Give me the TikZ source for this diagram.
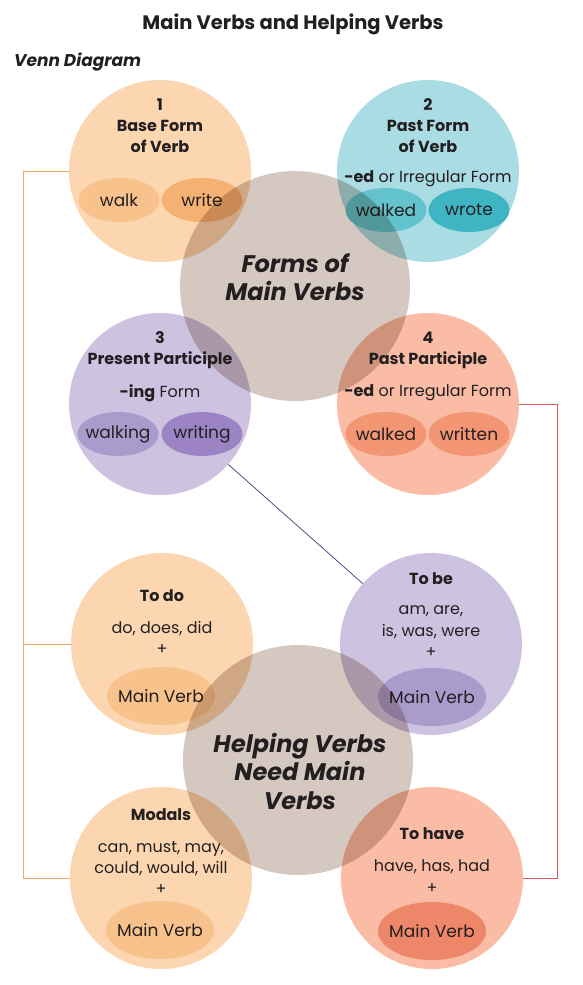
\documentclass[tikz,border=0pt]{standalone}
\usepackage{fontspec}
\setmainfont{Poppins}
\usetikzlibrary{positioning,shapes.geometric}

\definecolor{ink}{HTML}{231F20}
\definecolor{peach}{HTML}{FBD6B0}
\definecolor{peachdk}{HTML}{F7C28C}
\definecolor{peachdd}{HTML}{F4B172}
\definecolor{aqua}{HTML}{AADCE4}
\definecolor{aquadk}{HTML}{62C2CD}
\definecolor{aquadd}{HTML}{3FB5C4}
\definecolor{lilac}{HTML}{CDC3E1}
\definecolor{lilacdk}{HTML}{AA9BCD}
\definecolor{lilacdd}{HTML}{9C84C4}
\definecolor{salmon}{HTML}{FABCA5}
\definecolor{salmondk}{HTML}{F29673}
\definecolor{salmondd}{HTML}{EE8769}
\definecolor{taupe}{HTML}{D4C8C0}
\definecolor{brkorange}{HTML}{EDAA66}
\definecolor{brkred}{HTML}{E05A5A}
\definecolor{brknavy}{HTML}{3C3C78}

\begin{document}
\begin{tikzpicture}[x=1pt,y=-1pt,
      every node/.style={text=ink},
      blob/.style={circle,inner sep=0pt,minimum size=182},
      core/.style={circle,inner sep=0pt,minimum size=230,fill=taupe},
      word/.style={ellipse,inner ysep=0pt,inner xsep=-6pt,minimum width=81,minimum height=44,
         font=\fontsize{17}{20}\selectfont},
      mv/.style={ellipse,inner ysep=0pt,inner xsep=-7pt,minimum width=108,minimum height=58,
         font=\fontsize{17}{20}\selectfont},
      head/.style={align=center,font=\bfseries\fontsize{16}{21}\selectfont},
      body/.style={align=center,font=\fontsize{16}{21.5}\selectfont},
      big/.style={align=center,font=\bfseries\itshape\fontsize{24}{28.5}\selectfont},
      bracket/.style={draw=brkorange,line width=1pt},
      redlink/.style={draw=brkred,line width=0.8pt},
      link/.style={draw=brknavy,line width=0.7pt}]
  \useasboundingbox (0,0) rectangle (582,985);
  %.
  \node[font=\bfseries\fontsize{19.5}{23}\selectfont] (title) at (293,24) {Main Verbs and Helping Verbs};
  \node[anchor=west,inner sep=0pt,font=\bfseries\itshape\fontsize{17}{20}\selectfont] (venn) at (14,62) {Venn Diagram};
  %.
  \node[blob,fill=peach]  (c1) at (160,171) {};
  \node[blob,fill=aqua]   (c2) at (428,171) {};
  \node[blob,fill=lilac]  (c3) at (160,404) {};
  \node[blob,fill=salmon] (c4) at (428,404) {};
  \node[blob,fill=peach]  (todo) at (162,644) {};
  \node[blob,fill=lilac]  (tobe) at (431,644) {};
  \node[blob,fill=peach]  (modals) at (161,878) {};
  \node[blob,fill=salmon] (tohave) at (432,878) {};
  %.
  \node[word,fill=peachdk]  (walk) at (119,200) {walk};
  \node[word,fill=peachdd]  (write) at (202,200) {write};
  \node[word,fill=aquadk]   (walked) at (386,210) {walked};
  \node[word,fill=aquadd]   (wrote) at (469,210) {wrote};
  \node[word,fill=lilacdk]  (walking) at (118,434) {walking};
  \node[word,fill=lilacdd]  (writing) at (202,434) {writing};
  \node[word,fill=salmondk] (walkedpp) at (386,434) {walked};
  \node[word,fill=salmondk] (written) at (469,434) {written};
  \node[mv,fill=peachdk]  (todomv) at (161,696) {Main Verb};
  \node[mv,fill=lilacdk]  (tobemv) at (432,697) {Main Verb};
  \node[mv,fill=peachdk]  (modalsmv) at (160,930) {Main Verb};
  \node[mv,fill=salmondd] (tohavemv) at (432,931) {Main Verb};
  %.
  \begin{scope}[blend mode=multiply]
    \node[core] (forms) at (295,286) {};
    \node[core] (helping) at (298,760) {};
  \end{scope}
  %.
  \node[head] (c1t) at (160,126) {1\\Base Form\\of Verb};
  \node[head] (c2t) at (428,126) {2\\Past Form\\of Verb};
  \node[body] (c2b) at (428,179) {\textbf{-ed} or Irregular Form};
  \node[head] (c3t) at (160,350.5) {3\\Present Participle};
  \node[body] (c3b) at (160,393) {\textbf{-ing} Form};
  \node[head] (c4t) at (428,350.5) {4\\Past Participle};
  \node[body] (c4b) at (428,393) {\textbf{-ed} or Irregular Form};
  \node[big]  (formst) at (295,277) {Forms of\\Main Verbs};
  %.
  \node[head] (todot) at (162,596) {To do};
  \node[body] (todob) at (162,638) {do, does, did\\+};
  \node[head] (tobet) at (431,579) {To be};
  \node[body] (tobeb) at (431,632) {am, are,\\is, was, were\\+};
  \node[head] (modalst) at (161,815) {Modals};
  \node[body] (modalsb) at (161,868) {can, must, may,\\could, would, will\\+};
  \node[head] (tohavet) at (432,834) {To have};
  \node[body] (tohaveb) at (432,876.5) {have, has, had\\+};
  \node[big]  (helpingt) at (300,771) {Helping Verbs\\Need Main\\Verbs};
  %.
  \coordinate (brk) at (23,0);
  \draw[bracket] (c1.west) -- (c1.west -| brk) -- (modals.west -| brk) -- (modals.west);
  \draw[bracket] (todo.west) -- (todo.west -| brk);
  \draw[redlink] (c4.east) -- ++(38,0) |- (tohave.east);
  \draw[link] (c3) -- (tobe);
  %.
\end{tikzpicture}
\end{document}
